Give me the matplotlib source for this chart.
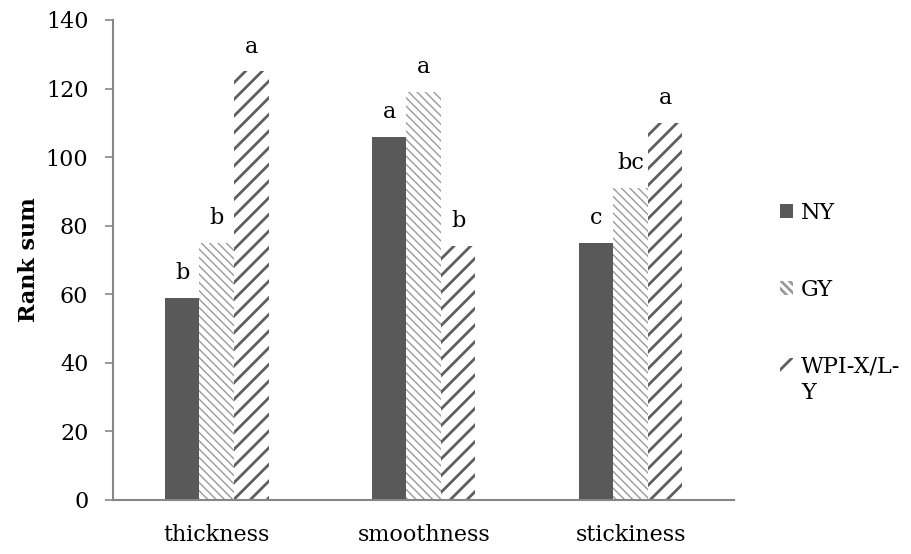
import matplotlib
matplotlib.use("Agg")
import matplotlib.pyplot as plt
import numpy as np

categories = ["thickness", "smoothness", "stickiness"]
series_names = ["NY", "GY", "WPI-X/L-Y"]
ny = [59, 106, 75]
gy = [75, 119, 91]
wpi = [125, 74, 110]
ny_letters = ["b", "a", "c"]
gy_letters = ["b", "a", "bc"]
wpi_letters = ["a", "b", "a"]

plt.rcParams["font.family"] = ["DejaVu Serif"]
plt.rcParams["font.size"] = 16

fig = plt.figure(figsize=(9.11, 5.54), dpi=100)
ax = fig.add_axes([0.1244, 0.0975, 0.6813, 0.8664])

x = np.arange(len(categories))
width = 0.167

# (fill, hatch, hatch colour, hatch linewidth)
styles = [
    ("#595959", None, "#595959", 0.0),
    ("white", "\\\\\\\\", "#9a9a9a", 1.0),
    ("white", "//", "#5f5f5f", 2.0),
]
all_vals = [ny, gy, wpi]
all_letters = [ny_letters, gy_letters, wpi_letters]

handles = []
for i, (vals, letters, name, st) in enumerate(zip(all_vals, all_letters, series_names, styles)):
    fill, hatch, hcol, hlw = st
    plt.rcParams["hatch.linewidth"] = hlw if hlw > 0 else 1.0
    bars = ax.bar(x + (i - 1) * width, vals, width, color=fill, edgecolor=hcol,
                  linewidth=0, hatch=hatch, label=name)
    for b in bars:
        if hasattr(b, "set_hatch_linewidth") and hlw > 0:
            b.set_hatch_linewidth(hlw)
    handles.append(bars)
    for xi, v, t in zip(x + (i - 1) * width, vals, letters):
        ax.annotate(t, (xi, v), xytext=(0, 10), textcoords="offset points",
                    ha="center", va="bottom", fontsize=16)

ax.set_xlim(-0.5, 2.5)
ax.set_ylim(0, 140)
ax.set_yticks(np.arange(0, 141, 20))
ax.set_xticks(x)
ax.set_xticklabels(categories)
ax.tick_params(axis="x", length=0, pad=17)
ax.tick_params(axis="y", length=6, width=1.2, color="#868686", pad=12)
for s in ["top", "right"]:
    ax.spines[s].set_visible(False)
for s in ["left", "bottom"]:
    ax.spines[s].set_color("#868686")
    ax.spines[s].set_linewidth(1.5)
ax.set_ylabel("Rank sum", fontweight="bold", fontsize=16, labelpad=4)

# legend text wraps in a narrow box: "WPI-X/L-" then "Y" on the next line
leg_labels = ["NY", "GY", "WPI-X/L-"]
leg = ax.legend(handles=handles, labels=leg_labels, loc="upper left",
                bbox_to_anchor=(0.834, 0.672), bbox_transform=fig.transFigure,
                frameon=False, handlelength=0.6, handleheight=0.6,
                handletextpad=0.35, labelspacing=2.48, fontsize=16)
ax.annotate("Y", xy=(0, 0), xycoords=leg.get_texts()[2], xytext=(0, -3),
            textcoords="offset points", ha="left", va="top", fontsize=16,
            zorder=6, annotation_clip=False)

fig.savefig("out.png", dpi=100)
